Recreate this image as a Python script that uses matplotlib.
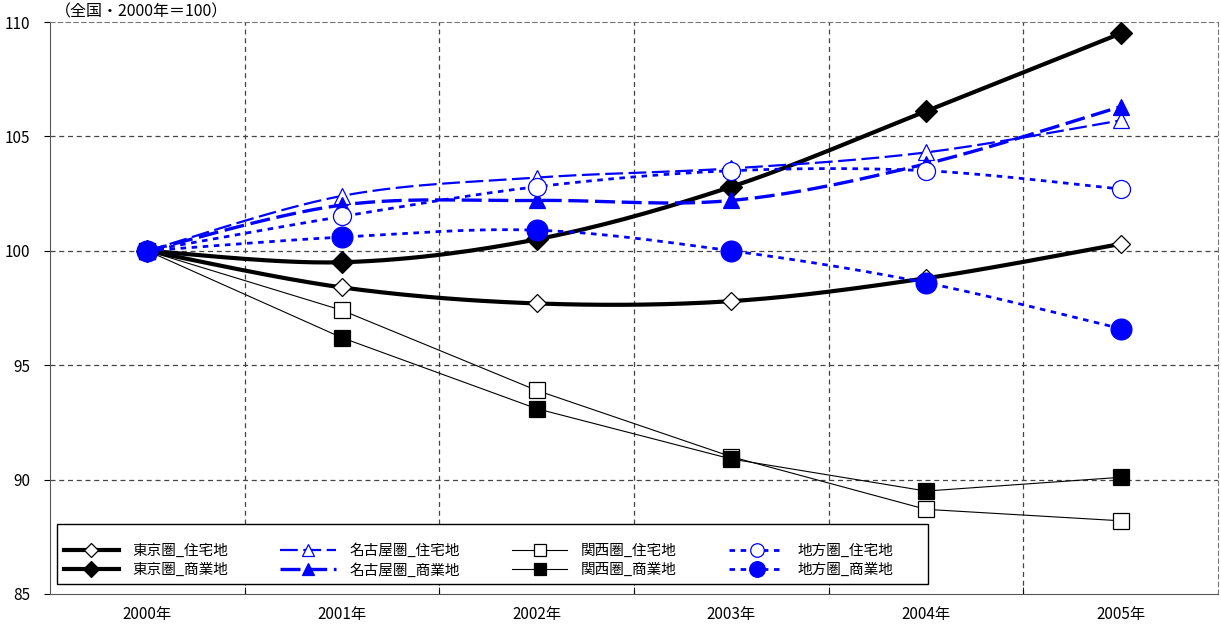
import numpy as np
import matplotlib
matplotlib.use("Agg")
import matplotlib.pyplot as plt
from matplotlib.patches import Rectangle

plt.rcParams['font.family'] = ['Noto Sans CJK JP', 'DejaVu Sans']

years = ["2000年", "2001年", "2002年", "2003年", "2004年", "2005年"]

tokyo_res = [100.0, 98.4, 97.7, 97.8, 98.8, 100.3]
tokyo_com = [100.0, 99.5, 100.5, 102.8, 106.1, 109.5]
nagoya_res = [100.0, 102.4, 103.2, 103.6, 104.3, 105.7]
nagoya_com = [100.0, 102.0, 102.2, 102.2, 103.8, 106.3]
kansai_res = [100.0, 97.4, 93.9, 91.0, 88.7, 88.2]
kansai_com = [100.0, 96.2, 93.1, 90.9, 89.5, 90.1]
chiho_res = [100.0, 101.5, 102.8, 103.5, 103.5, 102.7]
chiho_com = [100.0, 100.6, 100.9, 100.0, 98.6, 96.6]

labels = ["東京圏_住宅地", "東京圏_商業地", "名古屋圏_住宅地", "名古屋圏_商業地",
          "関西圏_住宅地", "関西圏_商業地", "地方圏_住宅地", "地方圏_商業地"]


def smooth(x, y, n=30):
    # Excel-like smoothed line (Catmull-Rom as cubic Bezier)
    x = np.asarray(x, float)
    y = np.asarray(y, float)
    px = np.concatenate([[x[0]], x, [x[-1]]])
    py = np.concatenate([[y[0]], y, [y[-1]]])
    xs, ys = [], []
    t = np.linspace(0, 1, n)
    for i in range(1, len(px) - 2):
        p0 = np.array([px[i], py[i]])
        p3 = np.array([px[i + 1], py[i + 1]])
        c1 = p0 + (np.array([px[i + 1], py[i + 1]]) - np.array([px[i - 1], py[i - 1]])) / 6
        c2 = p3 - (np.array([px[i + 2], py[i + 2]]) - np.array([px[i], py[i]])) / 6
        b = (np.outer((1 - t) ** 3, p0) + np.outer(3 * (1 - t) ** 2 * t, c1)
             + np.outer(3 * (1 - t) * t ** 2, c2) + np.outer(t ** 3, p3))
        xs.extend(b[:, 0])
        ys.extend(b[:, 1])
    return xs, ys


fig = plt.figure(figsize=(12.21, 6.29), dpi=100)
ax = fig.add_axes([50 / 1221, 35 / 629, 1168 / 1221, 572 / 629])

x = np.arange(len(years))
blue = "#0000ff"

series = [
    (tokyo_res, "black", "-", 3.0, "D", 9, "white", True),
    (tokyo_com, "black", "-", 3.0, "D", 11, "black", True),
    (nagoya_res, blue, (0, (8, 2.5)), 1.6, "^", 11, "white", True),
    (nagoya_com, blue, (0, (6, 2)), 2.4, "^", 12, blue, True),
    (kansai_res, "black", "-", 0.8, "s", 11, "white", False),
    (kansai_com, "black", "-", 0.8, "s", 11, "black", False),
    (chiho_res, blue, (0, (2, 2)), 2.0, "o", 13, "white", True),
    (chiho_com, blue, (0, (2, 2)), 2.0, "o", 15, blue, True),
]

handles = []
for vals, col, ls, lw, mk, ms, mfc, sm in series:
    if sm:
        sx, sy = smooth(x, vals)
    else:
        sx, sy = x, vals
    ax.plot(sx, sy, color=col, linestyle=ls, linewidth=lw, zorder=3)
    mec = col if mfc != "white" else ("black" if col == "black" else blue)
    ax.plot(x, vals, linestyle="none", marker=mk, markersize=ms,
            markerfacecolor=mfc, markeredgecolor=mec, markeredgewidth=0.9, zorder=4)
    h, = ax.plot([], [], color=col, linestyle=ls, linewidth=lw, marker=mk,
                 markersize=ms * 0.75, markerfacecolor=mfc, markeredgecolor=mec,
                 markeredgewidth=0.9)
    handles.append(h)

ax.set_xlim(-0.5, 5.5)
ax.set_ylim(85, 110)
ax.set_yticks([85, 90, 95, 100, 105, 110])
ax.set_xticks(x)
ax.set_xticklabels(years)
ax.set_xticks(np.arange(0.5, 5.5, 1), minor=True)
ax.tick_params(axis="x", which="major", length=0, labelsize=11, pad=9)
ax.tick_params(axis="x", which="minor", length=5, direction="in")
ax.tick_params(axis="y", length=4, direction="out", labelsize=11, pad=10)

for yv in [90, 95, 100, 105]:
    ax.axhline(yv, color="#444444", linestyle=(0, (4, 3)), linewidth=0.9, zorder=1)
for xv in np.arange(0.5, 5.5, 1):
    ax.axvline(xv, color="#444444", linestyle=(0, (4, 3)), linewidth=0.9, zorder=1)

for s in ["top", "right"]:
    ax.spines[s].set_linestyle((0, (4, 3)))
    ax.spines[s].set_color("#777777")
ax.spines["left"].set_color("#555555")
ax.spines["bottom"].set_color("#555555")

fig.text(55 / 1221, 1 - 12 / 629, "（全国・2000年＝100）", fontsize=11.5,
         va="center", ha="left")

# legend box drawn separately so it can be wider than the entries
fig.patches.append(Rectangle((57 / 1221, 45 / 629), 871 / 1221, 60 / 629,
                             transform=fig.transFigure, facecolor="white",
                             edgecolor="black", linewidth=1.0, zorder=5))
leg = fig.legend(handles, labels, ncol=4, loc="lower left",
                 bbox_to_anchor=(57 / 1221, 45 / 629),
                 fontsize=10.5, frameon=False,
                 handlelength=3.8, handletextpad=0.9,
                 columnspacing=3.6, labelspacing=0.35, borderaxespad=0,
                 borderpad=0.45)
leg.set_zorder(6)

fig.savefig("out.png", dpi=100)
